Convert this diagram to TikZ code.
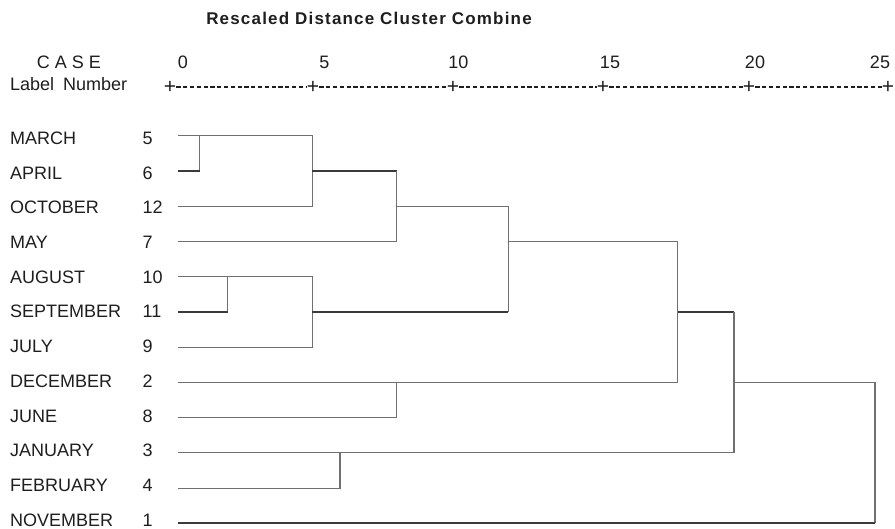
\documentclass[tikz,border=0pt]{standalone}
\usepackage{fontspec}
\setmainfont{Liberation Sans}
\usetikzlibrary{positioning}

\definecolor{ink}{HTML}{1E1E1E}
\definecolor{lnk}{HTML}{707070}
\definecolor{lnkdark}{HTML}{3A3A3A}

\tikzset{
  case/.style={anchor=base west, inner sep=0pt, text=ink, font=\fontsize{18}{20}\selectfont},
  scalelbl/.style={anchor=base, inner sep=0pt, text=ink, font=\fontsize{18}{20}\selectfont},
  tick/.style={inner sep=0pt, text=ink, font=\fontsize{21}{24}\selectfont},
  axisline/.style={draw=ink, line width=1.2pt, dash pattern=on 4.2pt off 2.6pt},
  link/.style={draw=lnk, line width=1.2pt},
  heavy/.style={draw=lnkdark, line width=2pt},
}

\begin{document}
\begin{tikzpicture}[x=1pt,y=-1pt]
  \useasboundingbox (0,0) rectangle (895,529);

  % heading and scale
  \node[scalelbl, font=\fontsize{17}{20}\selectfont\bfseries\addfontfeature{LetterSpace=7}] (title) at (369,25) {Rescaled Distance Cluster Combine};
  \node[scalelbl] (casehead) at (69,68.5) {C A S E};
  \node[case] (labelhead) at (10,90.5) {Label\hspace{0.5em}Number};
  \foreach \v/\x/\lx in {0/170/183, 5/313/324.3, 10/453/458.3, 15/603/610, 20/749/755, 25/888/880} {
    \node[tick] (t\v) at (\x,87) {+};
    \node[scalelbl] (s\v) at (\lx,69) {\v};
  }
  \draw[axisline] (t0) -- (t5) -- (t10) -- (t15) -- (t20) -- (t25);

  % cases
  \foreach \name/\num [count=\i from 0] in {MARCH/5, APRIL/6, OCTOBER/12, MAY/7, AUGUST/10, SEPTEMBER/11, JULY/9, DECEMBER/2, JUNE/8, JANUARY/3, FEBRUARY/4, NOVEMBER/1} {
    \node[case] (name\num) at (10,{144.3+34.72*\i}) {\name};
    \node[case] (num\num) at (142.5,{144.3+34.72*\i}) {\num};
    \coordinate (l\num) at (178,{135.7+35.24*\i});
  }

  % merge points
  \coordinate (k1) at (199.5,0 |- l6);
  \coordinate (k2) at (312.3,0 |- l12);
  \coordinate (k3) at (396.7,0 |- l7);
  \coordinate (k4) at (227.7,0 |- l11);
  \coordinate (k5) at (312.3,0 |- l9);
  \coordinate (k6) at (508.3,0 |- l11);
  \coordinate (k7) at (396.7,0 |- l8);
  \coordinate (k8) at (677.7,0 |- l2);
  \coordinate (k9) at (340,0 |- l4);
  \coordinate (k10) at (734,0 |- l3);
  \coordinate (k11) at (875,0 |- l1);

  % dendrogram
  \draw[link] (l5) -| (k2) -- (l12);
  \draw[link] (k1) -- (k1 |- l5);
  \draw[heavy] (l6) -- (k1);
  \draw[heavy] (k2 |- l6) -- (k3 |- l6);
  \draw[link] (k3 |- l6) -- (k3) -- (l7);
  \draw[link] (k3 |- l12) -| (k6);

  \draw[link] (l10) -| (k5) -- (l9);
  \draw[link] (k4) -- (k4 |- l10);
  \draw[heavy] (l11) -- (k4);
  \draw[heavy] (k5 |- l11) -- (k6);

  \draw[link] (k6 |- l7) -| (k8) -- (l2);
  \draw[link] (l8) -- (k7) -- (k7 |- l2);
  \draw[heavy] (k8 |- l11) -- (k10 |- l11);
  \draw[link] (k10 |- l11) -- (k10) -- (l3);
  \draw[link] (l4) -- (k9) -- (k9 |- l3);
  \draw[link] (k10 |- l2) -| (k11);
  \draw[heavy] (l1) -- (k11);
\end{tikzpicture}
\end{document}
